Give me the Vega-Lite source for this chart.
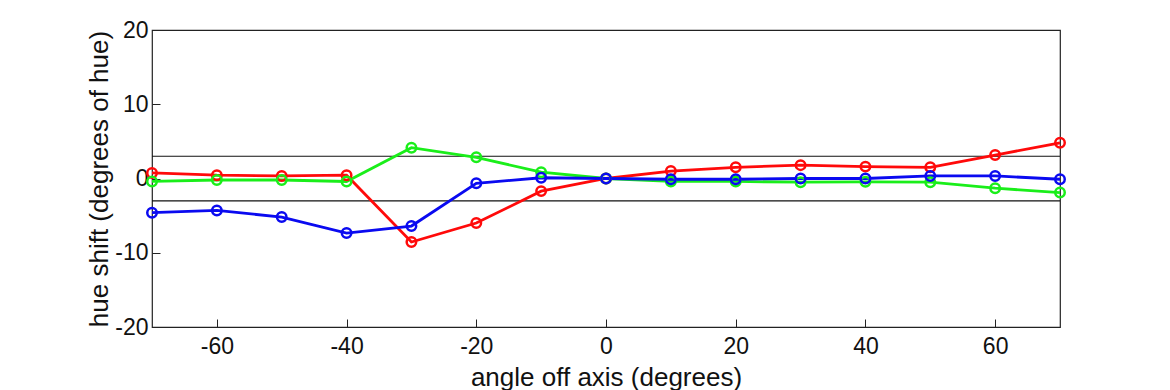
{
  "$schema": "https://vega.github.io/schema/vega-lite/v6.json",
  "width": 908,
  "height": 297,
  "autosize": {"type": "none"},
  "padding": {"left": 152, "top": 30, "right": 110, "bottom": 63},
  "background": "white",
  "config": {
    "font": "Liberation Sans",
    "view": {"stroke": "#222", "strokeWidth": 1.2},
    "axis": {"grid": false, "domain": false, "tickColor": "#222", "tickSize": -8, "labelColor": "#111", "titleColor": "#111", "labelFont": "Liberation Sans", "titleFont": "Liberation Sans", "labelFontSize": 23, "titleFontSize": 26, "titleFontWeight": "normal", "labelOverlap": false}
  },
  "datasets": {
    "curves": [
      {"angle": -70, "series": "red", "shift": 0.75},
      {"angle": -60, "series": "red", "shift": 0.45},
      {"angle": -50, "series": "red", "shift": 0.35},
      {"angle": -40, "series": "red", "shift": 0.45},
      {"angle": -30, "series": "red", "shift": -8.55},
      {"angle": -20, "series": "red", "shift": -6.0},
      {"angle": -10, "series": "red", "shift": -1.7},
      {"angle": 0, "series": "red", "shift": 0},
      {"angle": 10, "series": "red", "shift": 1.0},
      {"angle": 20, "series": "red", "shift": 1.5},
      {"angle": 30, "series": "red", "shift": 1.8},
      {"angle": 40, "series": "red", "shift": 1.6},
      {"angle": 50, "series": "red", "shift": 1.5},
      {"angle": 60, "series": "red", "shift": 3.15},
      {"angle": 70, "series": "red", "shift": 4.8},
      {"angle": -70, "series": "green", "shift": -0.4},
      {"angle": -60, "series": "green", "shift": -0.2},
      {"angle": -50, "series": "green", "shift": -0.2},
      {"angle": -40, "series": "green", "shift": -0.4},
      {"angle": -30, "series": "green", "shift": 4.15},
      {"angle": -20, "series": "green", "shift": 2.85},
      {"angle": -10, "series": "green", "shift": 0.85},
      {"angle": 0, "series": "green", "shift": 0},
      {"angle": 10, "series": "green", "shift": -0.4},
      {"angle": 20, "series": "green", "shift": -0.4},
      {"angle": 30, "series": "green", "shift": -0.5},
      {"angle": 40, "series": "green", "shift": -0.45},
      {"angle": 50, "series": "green", "shift": -0.5},
      {"angle": 60, "series": "green", "shift": -1.3},
      {"angle": 70, "series": "green", "shift": -1.9},
      {"angle": -70, "series": "blue", "shift": -4.6},
      {"angle": -60, "series": "blue", "shift": -4.3},
      {"angle": -50, "series": "blue", "shift": -5.2},
      {"angle": -40, "series": "blue", "shift": -7.35},
      {"angle": -30, "series": "blue", "shift": -6.4},
      {"angle": -20, "series": "blue", "shift": -0.65},
      {"angle": -10, "series": "blue", "shift": 0.1},
      {"angle": 0, "series": "blue", "shift": 0},
      {"angle": 10, "series": "blue", "shift": -0.1},
      {"angle": 20, "series": "blue", "shift": -0.1},
      {"angle": 30, "series": "blue", "shift": 0},
      {"angle": 40, "series": "blue", "shift": 0},
      {"angle": 50, "series": "blue", "shift": 0.35},
      {"angle": 60, "series": "blue", "shift": 0.35},
      {"angle": 70, "series": "blue", "shift": -0.1}
    ],
    "limits": [{"limit": 3}, {"limit": -3}]
  },
  "layer": [
    {
      "data": {"name": "limits"},
      "mark": {"type": "rule", "color": "#111", "strokeWidth": 1.2},
      "encoding": {
        "y": {"field": "limit", "type": "quantitative", "scale": {"domain": [-20, 20], "nice": false}, "axis": {"values": [-20, -10, 0, 10, 20], "title": "hue shift (degrees of hue)", "labelPadding": 12, "titlePadding": 2, "labelExpr": "datum.value < 0 ? '-' + abs(datum.value) : '' + datum.value"}}
      }
    },
    {
      "data": {"name": "curves"},
      "mark": {"type": "line", "strokeWidth": 2.8},
      "encoding": {
        "x": {"field": "angle", "type": "quantitative", "scale": {"domain": [-70, 70], "nice": false}, "axis": {"values": [-60, -40, -20, 0, 20, 40, 60], "title": "angle off axis (degrees)", "labelPadding": 16, "titlePadding": 6, "labelExpr": "datum.value < 0 ? '-' + abs(datum.value) : '' + datum.value"}},
        "y": {"field": "shift", "type": "quantitative"},
        "color": {"field": "series", "type": "nominal", "scale": {"domain": ["red", "green", "blue"], "range": ["#ff0a0a", "#1aee1a", "#0a0af0"]}, "legend": null},
        "order": {"field": "angle", "type": "quantitative"}
      }
    },
    {
      "data": {"name": "curves"},
      "mark": {"type": "point", "shape": "circle", "filled": false, "size": 90, "strokeWidth": 2.5, "opacity": 1},
      "encoding": {
        "x": {"field": "angle", "type": "quantitative"},
        "y": {"field": "shift", "type": "quantitative"},
        "color": {"field": "series", "type": "nominal", "legend": null}
      }
    }
  ]
}
